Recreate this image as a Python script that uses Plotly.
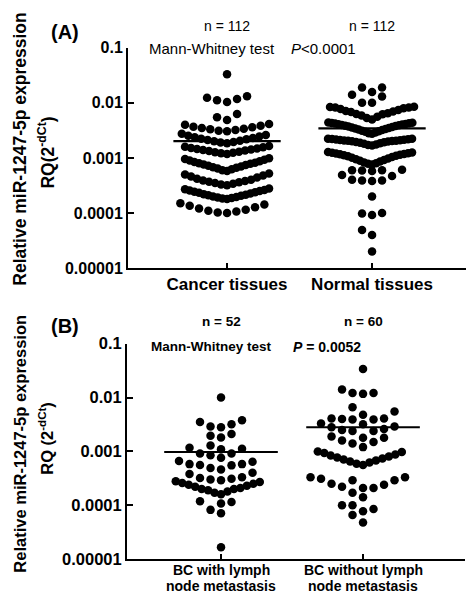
import numpy as np
import plotly.graph_objects as go

# ---------------- data ----------------
categories_a = ["Cancer tissues", "Normal tissues"]
categories_b = [["BC with lymph", "node metastasis"], ["BC without lymph", "node metastasis"]]
n_labels_a = ["n = 112", "n = 112"]
n_labels_b = ["n = 52", "n = 60"]
y_tickvals = [1e-5, 1e-4, 1e-3, 1e-2, 1e-1]
y_ticktext = ["0.00001", "0.0001", "0.001", "0.01", "0.1"]
test_a = ["Mann-Whitney test", "<i>P</i>&lt;0.0001"]
test_b = ["Mann-Whitney test", "<i>P</i> = 0.0052"]

cancer_tissues = [
    0.000100, 0.000102, 0.000106, 0.000110, 0.000115, 0.000120, 0.000127, 0.000135, 0.000143, 0.000150,
    0.000180, 0.000184, 0.000188, 0.000192, 0.000196, 0.000200, 0.000205, 0.000210, 0.000215, 0.000220,
    0.000226, 0.000232, 0.000238, 0.000244, 0.000250, 0.000256, 0.000262, 0.000270, 0.000278,
    0.00032, 0.00033, 0.00034, 0.00035, 0.00036, 0.00037, 0.00038, 0.00039, 0.00040, 0.00042,
    0.00044, 0.00046, 0.00048, 0.00050, 0.00052,
    0.00058, 0.00060, 0.00062, 0.00064, 0.00066, 0.00068, 0.00070, 0.00072, 0.00074, 0.00076,
    0.00078, 0.00080, 0.00082, 0.00084, 0.00087, 0.00090, 0.00093, 0.00096, 0.00099,
    0.00118, 0.00121, 0.00124, 0.00127, 0.00130, 0.00133, 0.00136, 0.00139, 0.00142, 0.00145,
    0.00148, 0.00152, 0.00156, 0.00160, 0.00165,
    0.00185, 0.00190, 0.00195, 0.00200, 0.00206, 0.00212, 0.00218, 0.00224, 0.00230, 0.00237,
    0.00244, 0.00252, 0.00262, 0.00275,
    0.00305, 0.00312, 0.00320, 0.00330, 0.00340, 0.00350, 0.00360, 0.00370, 0.00385, 0.00400, 0.00415,
    0.0049, 0.0055, 0.0063,
    0.0104, 0.0112, 0.0118, 0.0124, 0.0132,
    0.033,
]

normal_tissues = [
    0.000020, 0.000040, 0.000049, 0.000092, 0.0000976, 0.000100, 0.000200,
    0.00038, 0.00039, 0.00039, 0.00040, 0.00047, 0.00049, 0.00058, 0.00059, 0.00060, 0.00060, 0.00061,
    0.00076, 0.00078, 0.00080, 0.00083, 0.00086, 0.00089, 0.00092, 0.00095, 0.00098, 0.00101, 0.00104,
    0.00107, 0.00110, 0.00112, 0.00114, 0.00116, 0.00118, 0.00120, 0.00122, 0.00124, 0.00126, 0.00128,
    0.00168, 0.00172, 0.00176, 0.00180, 0.00184, 0.00188, 0.00192, 0.00195, 0.00198, 0.00200, 0.00202,
    0.00204, 0.00206, 0.00208, 0.00210, 0.00212, 0.00214, 0.00216, 0.00218, 0.00220, 0.00222, 0.00224,
    0.00275, 0.00282, 0.00290, 0.00298, 0.00305, 0.00312, 0.00320, 0.00328, 0.00335, 0.00342, 0.00350,
    0.00358, 0.00365, 0.00372, 0.00380, 0.00386, 0.00392, 0.00398, 0.00404, 0.00410, 0.00415, 0.00420,
    0.00425, 0.00430, 0.00435, 0.00440,
    0.0050, 0.0053, 0.0056, 0.0059, 0.0062, 0.0063, 0.0065, 0.0068, 0.0070, 0.0071, 0.0074, 0.0077,
    0.0080, 0.0082, 0.0082, 0.0084, 0.0085,
    0.0100, 0.0100, 0.0130, 0.0141, 0.0157, 0.0190, 0.0190,
]

bc_with_lnm = [
    0.0000165,
    0.000071, 0.000082, 0.000108, 0.000115, 0.000118,
    0.00016, 0.00017, 0.00018, 0.00019, 0.00020, 0.00020, 0.00021, 0.00022,
    0.00023, 0.00024, 0.00025, 0.00026, 0.00027, 0.00028, 0.00029, 0.00030, 0.00031, 0.00032, 0.00033,
    0.00038, 0.00040, 0.00046, 0.00049,
    0.00055, 0.00056, 0.00058, 0.00058, 0.00064, 0.00066, 0.00076,
    0.00085, 0.00091, 0.00091, 0.00110, 0.00112, 0.00117, 0.00129,
    0.00182, 0.00195, 0.00210,
    0.0028, 0.0029, 0.0032, 0.0035, 0.0038,
    0.0100,
]

bc_without_lnm = [
    0.000048, 0.000066, 0.000077, 0.000085, 0.000100, 0.000100, 0.00014, 0.00017,
    0.00021, 0.00021, 0.00022, 0.00024, 0.00025, 0.00029, 0.00029, 0.00031, 0.00033, 0.00033,
    0.00056, 0.00059, 0.00062, 0.00065, 0.00068, 0.00071, 0.00074, 0.00077, 0.00080, 0.00084,
    0.00088, 0.00093, 0.00097,
    0.0010, 0.0012, 0.0014, 0.0015, 0.0016, 0.0018, 0.0018,
    0.0019, 0.0024, 0.0024, 0.0025, 0.0026, 0.0028, 0.0029, 0.0032, 0.0033,
    0.0039, 0.0039, 0.0040, 0.0041, 0.0041, 0.0048, 0.0055, 0.0066,
    0.0117, 0.0121, 0.0121, 0.0141, 0.034,
]

# ---------------- layout helpers ----------------
W, H = 466, 603


def swarm_offsets(values, px_per_decade, px_per_unit, row_h=14.0, gap=2.2,
                  smax=10.0, wmax=84.0, dcoll=7.0):
    """Deterministic scatter-dot layout: rows of close values spread centre-out."""
    v = np.asarray(values, float)
    py = np.log10(v) * px_per_decade
    order = np.argsort(py, kind="stable")
    rows = []
    for i in order:
        if rows and py[i] - py[rows[-1][0]] < row_h and py[i] - py[rows[-1][-1]] < gap:
            rows[-1].append(i)
        else:
            rows.append([i])
    xpx = np.zeros(len(v))
    placed = []
    for row in rows:
        n = len(row)
        step = smax if n < 2 else min(smax, wmax / (n - 1))
        k = 0
        for i in row:
            while True:
                s = ((k + 1) // 2) * (-1 if k % 2 == 1 else 1)
                k += 1
                x = s * step
                if all(np.hypot(x - px, py[i] - pyy) >= dcoll for px, pyy in placed):
                    break
            xpx[i] = x
        placed.extend((xpx[i], py[i]) for i in row)
    return xpx / px_per_unit


def pfx(px):
    return px / W


def pfy(py):
    return 1 - py / H


# panel geometry (pixels)
A = dict(x0=128, x1=466, ytop=40, ybot=267, xr=[-0.683, 1.648])
B = dict(x0=127, x1=465, ytop=345, ybot=567, xr=[-0.662, 1.718])

FONT = "Arial, Liberation Sans, sans-serif"
fig = go.Figure()


def add_panel(P, groups, xa, ya, smax, wmax, dcoll, half):
    ppd = (P["ybot"] - P["ytop"]) / 4.0
    ppu = (P["x1"] - P["x0"]) / (P["xr"][1] - P["xr"][0])
    for gi, vals in enumerate(groups):
        off = swarm_offsets(vals, ppd, ppu, smax=smax, wmax=wmax, dcoll=dcoll)
        fig.add_trace(go.Scatter(
            x=gi + off, y=vals, mode="markers", xaxis=xa, yaxis=ya,
            marker=dict(size=8.5, color="black", line=dict(width=0)),
            hoverinfo="skip", showlegend=False))
        m = float(np.mean(vals))
        fig.add_trace(go.Scatter(
            x=[gi - half, gi + half], y=[m, m], mode="lines", xaxis=xa, yaxis=ya,
            line=dict(color="black", width=2.2), hoverinfo="skip", showlegend=False))


add_panel(A, [cancer_tissues, normal_tissues], "x", "y", smax=10, wmax=84, dcoll=6.5, half=0.37)
add_panel(B, [bc_with_lnm, bc_without_lnm], "x2", "y2", smax=10.5, wmax=84, dcoll=8.5, half=0.40)

axis_common = dict(showline=True, linecolor="black", linewidth=2, showgrid=False,
                   zeroline=False, mirror=False, color="black")

fig.update_layout(
    width=W, height=H, margin=dict(l=0, r=0, t=0, b=0), autosize=False,
    paper_bgcolor="white", plot_bgcolor="white", showlegend=False,
    font=dict(family=FONT, color="black"),
    xaxis=dict(domain=[pfx(A["x0"]), pfx(A["x1"])], range=A["xr"], anchor="y",
               tickmode="array", tickvals=[0, 1], ticktext=[f"<b>{c}</b>" for c in categories_a],
               ticks="inside", ticklen=5, tickwidth=2, tickfont=dict(size=17, family=FONT),
               **axis_common),
    yaxis=dict(domain=[pfy(A["ybot"]), pfy(A["ytop"])], type="log", range=[-5, -1], anchor="x",
               tickmode="array", tickvals=y_tickvals,
               ticktext=[f"<b>{t}</b>" for t in y_ticktext],
               ticks="inside", ticklen=6, tickwidth=2, tickfont=dict(size=16, family=FONT),
               **axis_common),
    xaxis2=dict(domain=[pfx(B["x0"]), pfx(B["x1"])], range=B["xr"], anchor="y2",
                tickmode="array", tickvals=[0, 1], showticklabels=False,
                ticks="inside", ticklen=5, tickwidth=2,
                **axis_common),
    yaxis2=dict(domain=[pfy(B["ybot"]), pfy(B["ytop"])], type="log", range=[-5, -1], anchor="x2",
                tickmode="array", tickvals=y_tickvals,
                ticktext=[f"<b>{t}</b>" for t in y_ticktext],
                ticks="inside", ticklen=6, tickwidth=2, tickfont=dict(size=16.5, family=FONT),
                **axis_common),
)

ann = []


def txt(text, x, y, size, bold=False, xref="paper", angle=0, xanchor="center"):
    ann.append(dict(text=f"<b>{text}</b>" if bold else text, x=x, y=y, xref=xref, yref="paper",
                    showarrow=False, xanchor=xanchor, yanchor="middle", textangle=angle,
                    font=dict(size=size, family=FONT, color="black")))


# Panel A texts
txt("(A)", pfx(65), pfy(24), 20, bold=True)
for i, s in enumerate(n_labels_a):
    txt(s, i, pfy(17.5), 14, xref="x")
txt(test_a[0], pfx(212), pfy(41), 15)
txt(test_a[1], pfx(323), pfy(41), 15)
txt("Relative miR-1247-5p expression", pfx(20), pfy(145), 17.5, bold=True, angle=-90)
txt("RQ(2<sup>-dCt</sup>)", pfx(46), pfy(148), 17.5, bold=True, angle=-90)

# Panel B texts
txt("(B)", pfx(65), pfy(327), 20, bold=True)
for i, s in enumerate(n_labels_b):
    txt(s, i, pfy(322.5), 13.5, bold=True, xref="x2")
txt(test_b[0], pfx(211.5), pfy(348), 13.5, bold=True)
txt(test_b[1], pfx(327), pfy(348), 14, bold=True)
txt("Relative miR-1247-5p expression", pfx(20), pfy(448), 16.5, bold=True, angle=-90)
txt("RQ (2<sup>-dCt</sup>)", pfx(46), pfy(443), 16.5, bold=True, angle=-90)
for i, (l1, l2) in enumerate(categories_b):
    txt(l1, i, pfy(578.5), 14, bold=True, xref="x2")
    txt(l2, i, pfy(594.5), 14, bold=True, xref="x2")

fig.update_layout(annotations=ann)
fig.write_html(
    "out.html",
    config={"displayModeBar": False},
    post_script="document.body.style.margin='0';document.body.style.padding='0';",
)
